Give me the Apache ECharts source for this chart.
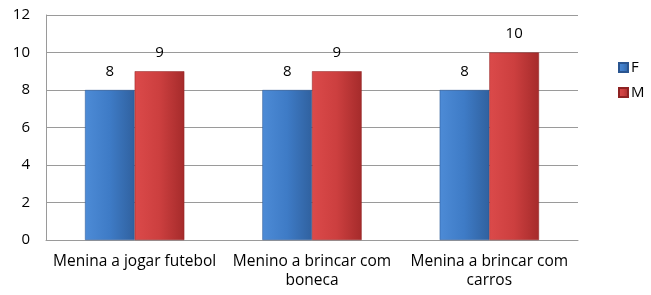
<!DOCTYPE html>
<html>
<head>
<meta charset="utf-8">
<script src="https://cdn.jsdelivr.net/npm/echarts@6/dist/echarts.min.js"></script>
<style>
  html, body { margin: 0; padding: 0; background: #fff; }
  #chart { width: 651px; height: 295px; }
</style>
</head>
<body>
<div id="chart"></div>
<script>
const categories = ['Menina a jogar futebol', 'Menino a brincar com\nboneca', 'Menina a brincar com\ncarros']
const seriesF = [8, 8, 8]
const seriesM = [9, 9, 10]
const yTicks = { min: 0, max: 12, interval: 2 }

const fontFamily = '"Open Sans", "DejaVu Sans", sans-serif'

function barGradient(light, mid, dark) {
  return new echarts.graphic.LinearGradient(0, 0, 1, 0, [
    { offset: 0, color: light },
    { offset: 0.5, color: mid },
    { offset: 1, color: dark }
  ])
}

const chart = echarts.init(document.getElementById('chart'))

chart.setOption({
  animation: false,
  textStyle: { fontFamily },
  legend: {
    orient: 'vertical',
    left: 613,
    top: 55,
    itemWidth: 9,
    itemHeight: 9,
    itemGap: 10,
    icon: 'rect',
    textStyle: { fontSize: 15, color: '#000', fontFamily, padding: [0, 0, 0, -2] },
    data: ['F', 'M']
  },
  grid: {
    left: 46,
    right: 73,
    top: 15,
    bottom: 55
  },
  xAxis: {
    type: 'category',
    data: categories,
    axisLine: { lineStyle: { color: '#9a9a9a' } },
    axisTick: { show: false },
    axisLabel: {
      color: '#000',
      fontSize: 15.5,
      fontFamily,
      lineHeight: 19,
      margin: 12,
      interval: 0
    }
  },
  yAxis: {
    type: 'value',
    min: yTicks.min,
    max: yTicks.max,
    interval: yTicks.interval,
    axisLine: { show: true, lineStyle: { color: '#9a9a9a' } },
    axisTick: { show: false },
    splitLine: { lineStyle: { color: '#9a9a9a' } },
    axisLabel: { color: '#000', fontSize: 15, fontFamily, margin: 16 }
  },
  series: [
    {
      name: 'F',
      type: 'bar',
      data: seriesF,
      barWidth: '28%',
      barGap: '0%',
      itemStyle: {
        color: barGradient('#4d8bd6', '#3e7bc6', '#30619f'),
        borderColor: '#2a5590',
        borderWidth: 0.5
      },
      label: { show: true, position: 'top', distance: 11, color: '#000', fontSize: 15, fontFamily }
    },
    {
      name: 'M',
      type: 'bar',
      data: seriesM,
      barWidth: '28%',
      itemStyle: {
        color: barGradient('#db4a4a', '#cc3f3f', '#a52b2b'),
        borderColor: '#8e2222',
        borderWidth: 0.5
      },
      label: { show: true, position: 'top', distance: 11, color: '#000', fontSize: 15, fontFamily }
    }
  ]
})
</script>
</body>
</html>
